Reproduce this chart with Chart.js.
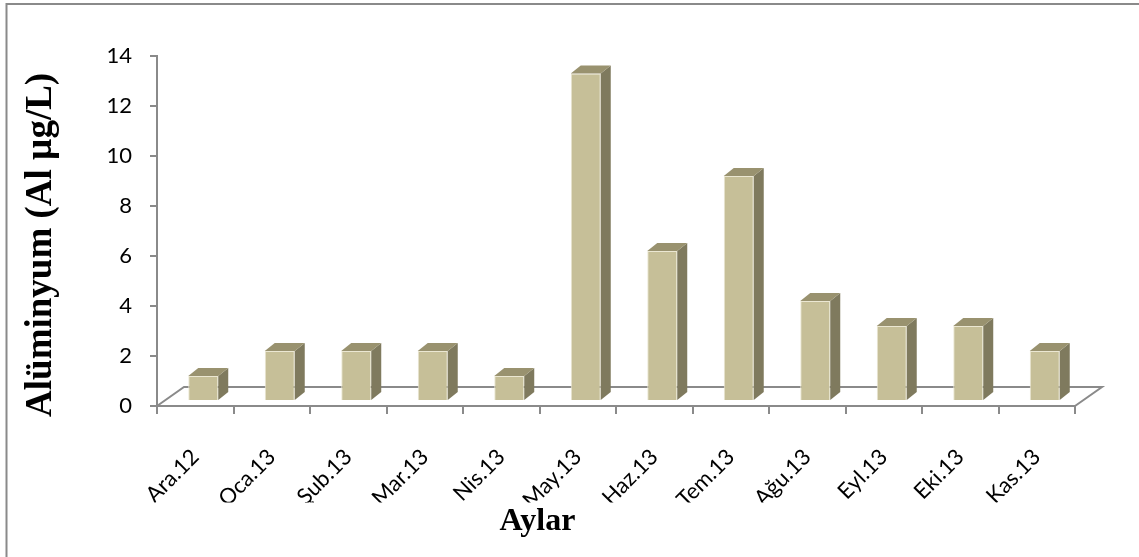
<!DOCTYPE html>
<html>
<head>
<meta charset="utf-8">
<script src="https://cdn.jsdelivr.net/npm/chart.js@4.4.1/dist/chart.umd.min.js"></script>
<style>
  html, body { margin: 0; padding: 0; background: #fff; overflow: hidden; }
  canvas { display: block; }
</style>
</head>
<body>
<canvas id="chart" width="1139" height="557"></canvas>
<script>
// Monthly aluminium concentration
const months = ['Ara.12', 'Oca.13', 'Şub.13', 'Mar.13', 'Nis.13', 'May.13',
                'Haz.13', 'Tem.13', 'Ağu.13', 'Eyl.13', 'Eki.13', 'Kas.13'];
const aluminium = [1, 2, 2, 2, 1, 13.1, 6, 9, 4, 3, 3, 2];
const yTickValues = [0, 2, 4, 6, 8, 10, 12, 14];

// Plot frame and pseudo-3D styling
const PLOT = { left: 157, top: 56, right: 1075, bottom: 406 };
const GRAY = '#8a8a8a';
const FRONT = '#c6bf98';
const SIDE = '#7f7a5e';
const TOP = '#99926f';
const FLOOR_DX = 27, FLOOR_DY = 19;   // depth of the floor plane
const SHIFT_X = 8, SHIFT_Y = 5;       // bars sit slightly back on the floor
const BAR_DX = 10, BAR_DY = 8;        // depth of each bar
const X_TITLE_SIZE = 32, X_TITLE_PAD = 16;
const TICK_FONT = { family: 'Lato, "Open Sans", sans-serif', size: 22 };

const frame = {
  id: 'frame',
  beforeDraw(chart) {
    const ctx = chart.ctx;
    ctx.save();
    ctx.fillStyle = '#fff';
    ctx.fillRect(0, 0, chart.width, chart.height);
    ctx.strokeStyle = GRAY;
    ctx.lineWidth = 2;
    ctx.strokeRect(6.5, 4, chart.width + 20, chart.height + 20);
    ctx.restore();
  }
};

function poly(ctx, pts, fill) {
  ctx.beginPath();
  ctx.moveTo(pts[0][0], pts[0][1]);
  for (let i = 1; i < pts.length; i++) ctx.lineTo(pts[i][0], pts[i][1]);
  ctx.closePath();
  ctx.fillStyle = fill;
  ctx.fill();
}

const depth3d = {
  id: 'depth3d',
  beforeDatasetsDraw(chart) {
    const { ctx, scales: { x, y } } = chart;
    const y0 = y.getPixelForValue(0);
    ctx.save();
    ctx.strokeStyle = GRAY;
    ctx.lineWidth = 2;
    ctx.beginPath();
    ctx.moveTo(x.left, y0);
    ctx.lineTo(x.left + FLOOR_DX, y0 - FLOOR_DY);
    ctx.lineTo(x.right + FLOOR_DX, y0 - FLOOR_DY);
    ctx.lineTo(x.right, y0);
    ctx.stroke();
    ctx.restore();
    // front faces are drawn by the bar controller, nudged back onto the floor
    ctx.save();
    ctx.translate(SHIFT_X, -SHIFT_Y);
  },
  afterDatasetsDraw(chart) {
    const ctx = chart.ctx;
    ctx.restore();
    const meta = chart.getDatasetMeta(0);
    ctx.save();
    meta.data.forEach(bar => {
      const { x, y, base, width } = bar.getProps(['x', 'y', 'base', 'width'], true);
      const l = x - width / 2 + SHIFT_X;
      const r = x + width / 2 + SHIFT_X;
      const t = y - SHIFT_Y;
      const b = base - SHIFT_Y;
      poly(ctx, [[r, t], [r + BAR_DX, t - BAR_DY], [r + BAR_DX, b - BAR_DY], [r, b]], SIDE);
      poly(ctx, [[l, t], [l + BAR_DX, t - BAR_DY], [r + BAR_DX, t - BAR_DY], [r, t]], TOP);
    });
    ctx.restore();
  }
};

new Chart(document.getElementById('chart'), {
  type: 'bar',
  data: {
    labels: months,
    datasets: [{
      data: aluminium,
      backgroundColor: FRONT,
      borderColor: '#ebe7d2',
      borderWidth: 1,
      categoryPercentage: 1,
      barPercentage: 0.392,
      clip: false
    }]
  },
  options: {
    responsive: false,
    devicePixelRatio: 1,
    animation: false,
    layout: { padding: { top: PLOT.top, right: 1139 - PLOT.right, left: 0, bottom: 0 } },
    plugins: {
      legend: { display: false },
      tooltip: { enabled: false },
      title: {
        display: true,
        position: 'bottom',
        text: 'Aylar',
        color: '#000',
        font: { family: '"Liberation Serif", "Times New Roman", serif', size: X_TITLE_SIZE, weight: 'bold' },
        padding: { top: 0, bottom: X_TITLE_PAD }
      }
    },
    scales: {
      x: {
        offset: true,
        afterFit(s) { s.height = s.chart.height - PLOT.bottom - (X_TITLE_SIZE * 1.2 + X_TITLE_PAD); },
        grid: { display: true, drawOnChartArea: false, drawTicks: true, tickLength: 8, color: GRAY, lineWidth: 2, offset: true },
        border: { display: true, color: GRAY, width: 2 },
        ticks: {
          autoSkip: false, minRotation: 45, maxRotation: 45, padding: 30,
          color: '#000', font: TICK_FONT
        }
      },
      y: {
        min: 0, max: 14,
        afterFit(s) { s.width = PLOT.left; },
        afterBuildTicks(s) { s.ticks = yTickValues.map(v => ({ value: v })); },
        grid: { display: true, drawOnChartArea: false, drawTicks: true, tickLength: 7, color: GRAY, lineWidth: 2 },
        border: { display: true, color: GRAY, width: 2 },
        ticks: { padding: 18, color: '#000', font: TICK_FONT },
        title: {
          display: true,
          text: 'Alüminyum (Al µg/L)   ',
          color: '#000',
          font: { family: '"Liberation Serif", "Times New Roman", serif', size: 37, weight: 'bold' },
          padding: { top: 19, bottom: 0 }
        }
      }
    }
  },
  plugins: [frame, depth3d]
});
</script>
</body>
</html>
